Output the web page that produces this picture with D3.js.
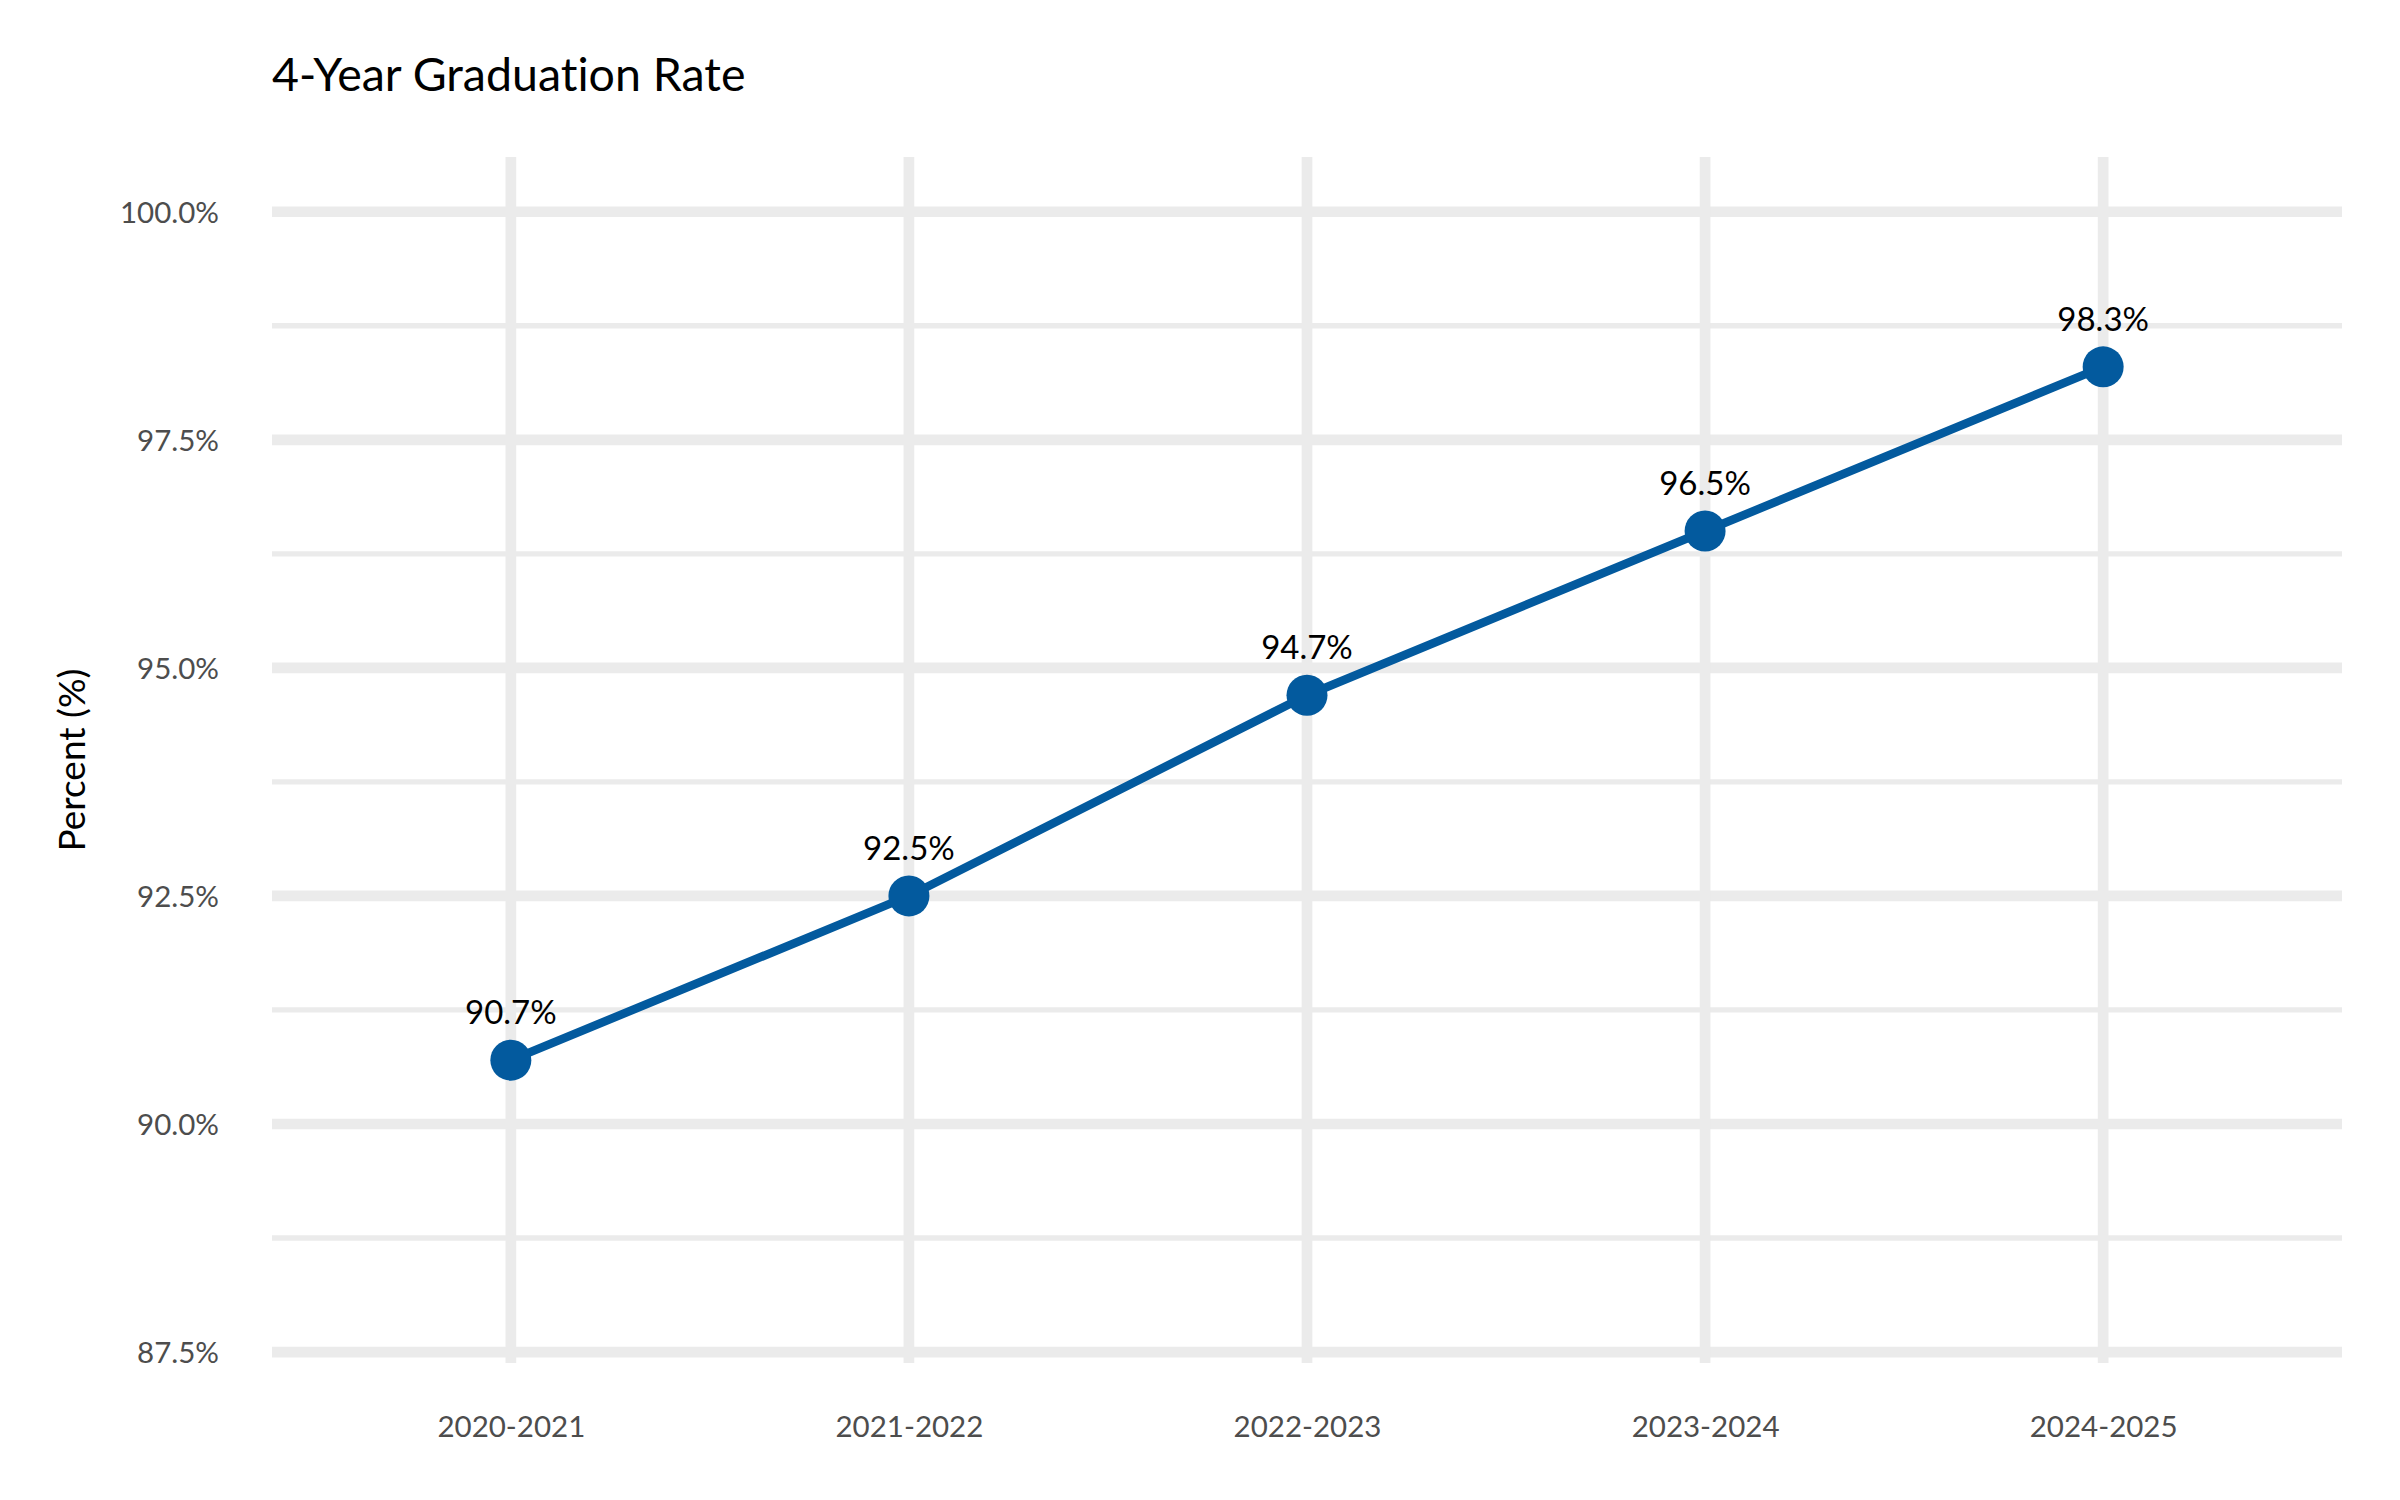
<!DOCTYPE html>
<html>
<head>
<meta charset="utf-8">
<script src="https://cdn.jsdelivr.net/npm/d3@7"></script>
<style>
  html, body { margin: 0; padding: 0; background: #ffffff; }
  svg { display: block; font-family: Lato, "Open Sans", sans-serif; font-variant-ligatures: none; font-feature-settings: "liga" 0; }
</style>
</head>
<body>
<svg id="chart" width="2400" height="1500"></svg>
<script>
// ---- data ----
const categories = ["2020-2021", "2021-2022", "2022-2023", "2023-2024", "2024-2025"];
const rates = [90.7, 92.5, 94.7, 96.5, 98.3];
const yMajorTicks = [87.5, 90, 92.5, 95, 97.5, 100];
const yMinorTicks = [88.75, 91.25, 93.75, 96.25, 98.75];
const titleText = "4-Year Graduation Rate";
const yTitleText = "Percent (%)";

// ---- layout ----
const W = 2400, H = 1500;
const panel = { left: 272, right: 2342, top: 157, bottom: 1363 };
const gridColor = "#EBEBEB";
const lineColor = "#035A9E";

const svg = d3.select("#chart");
svg.append("rect").attr("width", W).attr("height", H).attr("fill", "#ffffff");

const x = d3.scalePoint().domain(categories).range([panel.left, panel.right]).padding(0.6);
const y = d3.scaleLinear().domain([87.38, 100.6]).range([panel.bottom, panel.top]);

// grid
const grid = svg.append("g");
grid.selectAll("line.ymin").data(yMinorTicks).join("line")
  .attr("x1", panel.left).attr("x2", panel.right)
  .attr("y1", d => y(d)).attr("y2", d => y(d))
  .attr("stroke", gridColor).attr("stroke-width", 5.3);
grid.selectAll("line.ymaj").data(yMajorTicks).join("line")
  .attr("x1", panel.left).attr("x2", panel.right)
  .attr("y1", d => y(d)).attr("y2", d => y(d))
  .attr("stroke", gridColor).attr("stroke-width", 10.7);
grid.selectAll("line.xmaj").data(categories).join("line")
  .attr("x1", d => x(d)).attr("x2", d => x(d))
  .attr("y1", panel.top).attr("y2", panel.bottom)
  .attr("stroke", gridColor).attr("stroke-width", 10.7);

// axes
const yAxis = d3.axisLeft(y).tickValues(yMajorTicks)
  .tickFormat(d => d.toFixed(1) + "%").tickSize(0).tickPadding(53);
const gy = svg.append("g").attr("transform", `translate(${panel.left},0)`).call(yAxis);
gy.select(".domain").remove();
gy.selectAll("text").attr("dy", "0.358em").attr("fill", "#4D4D4D")
  .style("font-family", "Lato").style("font-size", "29.5px");

const xAxis = d3.axisBottom(x).tickSize(0).tickPadding(0);
const gx = svg.append("g").attr("transform", `translate(0,${panel.bottom})`).call(xAxis);
gx.select(".domain").remove();
gx.selectAll("text").attr("y", 74).attr("dy", 0).attr("fill", "#4D4D4D")
  .style("font-family", "Lato").style("font-size", "29.5px");

// line + points
const pts = categories.map((c, i) => ({ c, v: rates[i] }));
svg.append("path").datum(pts)
  .attr("d", d3.line().x(d => x(d.c)).y(d => y(d.v)))
  .attr("fill", "none").attr("stroke", lineColor).attr("stroke-width", 8.5)
  .attr("stroke-linejoin", "round");
svg.selectAll("circle.pt").data(pts).join("circle")
  .attr("cx", d => x(d.c)).attr("cy", d => y(d.v)).attr("r", 20.5)
  .attr("fill", lineColor);

// data labels
svg.selectAll("text.lbl").data(pts).join("text")
  .attr("x", d => x(d.c)).attr("y", d => y(d.v) - 36)
  .attr("text-anchor", "middle").attr("fill", "#000000")
  .style("font-family", "Lato").style("font-size", "33px")
  .text(d => d.v.toFixed(1) + "%");

// titles
svg.append("text").attr("x", 272).attr("y", 91)
  .attr("fill", "#000000").style("font-family", "Lato").style("font-size", "46.5px")
  .text(titleText);
svg.append("text")
  .attr("transform", `translate(85,${(panel.top + panel.bottom) / 2}) rotate(-90)`)
  .attr("text-anchor", "middle").attr("fill", "#000000")
  .style("font-family", "Lato").style("font-size", "37px")
  .text(yTitleText);
</script>
</body>
</html>
